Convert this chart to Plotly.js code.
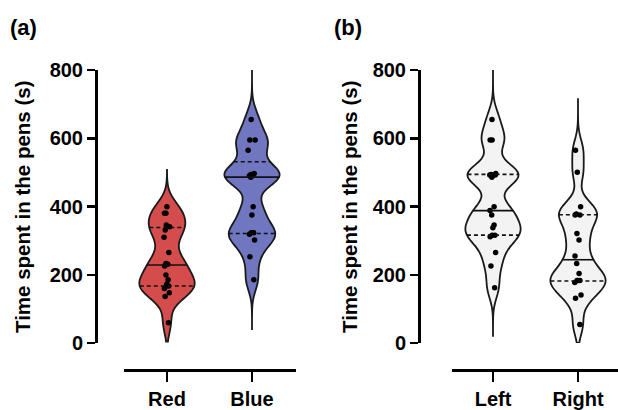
<!DOCTYPE html>
<html><head><meta charset="utf-8">
<script src="https://cdn.plot.ly/plotly-3.0.1.min.js"></script>
<style>html,body{margin:0;padding:0;background:#fff}#chart{width:618px;height:410px}</style>
</head><body><div id="chart"></div>
<script>
// ---- data ----
const colorCategories = ['Red', 'Blue'];
const sideCategories = ['Left', 'Right'];
const yTickVals = [0, 200, 400, 600, 800];
const redValues = [59,136,147,160,167,167,173,185,199,226,231,233,265,310,331,341,346,380,380,399];
const blueValues = [185,253,302,319,323,323,375,399,486,490,492,494,497,565,595,595,655];
const leftValues = [162,226,265,311,316,316,338,346,375,388,399,486,492,492,494,497,595,595,655];
const rightValues = [54,131,141,177,183,183,183,204,233,255,302,321,375,375,378,399,500,565];
const redSpan = [4, 507];
const blueSpan = [38, 800];
const leftSpan = [18, 800];
const rightSpan = [0, 717];

// ---- style ----
const W = 618, H = 410;
const FONT = 'Liberation Sans, Arial, sans-serif';
const BW = 33, VW = 0.65;
const fills = ['#d44c4c', '#7076c0', '#f3f3f3', '#f3f3f3'];

function kde(vals, bw, y) {
  let s = 0;
  for (const v of vals) { const z = (y - v) / bw; s += Math.exp(-0.5 * z * z); }
  return s / (vals.length * bw * Math.sqrt(2 * Math.PI));
}
function halfWidth(vals, span, y) {
  let mx = 0;
  for (let i = 0; i <= 600; i++) {
    const t = span[0] + (span[1] - span[0]) * i / 600;
    mx = Math.max(mx, kde(vals, BW, t));
  }
  return VW / 2 * kde(vals, BW, y) / mx;
}
function quant(vals, p) {
  const s = vals.slice().sort((a, b) => a - b);
  const pos = p * (s.length + 1) - 1;
  const lo = Math.max(0, Math.floor(pos)), hi = Math.min(s.length - 1, lo + 1);
  return s[lo] + (s[hi] - s[lo]) * (pos - lo);
}

const groups = [
  {vals: redValues, span: redSpan, pos: 0, name: colorCategories[0], xa: 'x', ya: 'y', fill: fills[0]},
  {vals: blueValues, span: blueSpan, pos: 1, name: colorCategories[1], xa: 'x', ya: 'y', fill: fills[1]},
  {vals: leftValues, span: leftSpan, pos: 0, name: sideCategories[0], xa: 'x2', ya: 'y2', fill: fills[2]},
  {vals: rightValues, span: rightSpan, pos: 1, name: sideCategories[1], xa: 'x2', ya: 'y2', fill: fills[3]}
];

const traces = groups.map(g => ({
  type: 'violin', y: g.vals, x0: g.pos, name: g.name, xaxis: g.xa, yaxis: g.ya,
  bandwidth: BW, spanmode: 'manual', span: g.span, width: VW, scalemode: 'width',
  fillcolor: g.fill, line: {color: '#1a1a1a', width: 1.8},
  points: 'all', pointpos: 0, jitter: 0.15,
  marker: {color: '#000', size: 5.5, line: {width: 0}},
  box: {visible: false}, meanline: {visible: false}, showlegend: false, hoverinfo: 'y'
}));

const shapes = [];
groups.forEach(g => {
  [[0.25, 'dash'], [0.5, 'solid'], [0.75, 'dash']].forEach(([p, d]) => {
    const q = quant(g.vals, p);
    const hw = halfWidth(g.vals, g.span, q);
    shapes.push({type: 'line', xref: g.xa, yref: g.ya, x0: g.pos - hw, x1: g.pos + hw, y0: q, y1: q,
      line: {color: '#111', width: 1.6, dash: d === 'dash' ? '4px,3px' : 'solid'}});
  });
});

const yTop = 70, yBot = 343, xLineY = 370;
function yaxisDef(px) {
  return {domain: [(H - yBot) / H, (H - yTop) / H], anchor: 'free', position: px / W,
    range: [0, 800], tickvals: yTickVals, ticktext: yTickVals.map(String),
    showline: true, linecolor: '#000', linewidth: 2.5, ticks: 'outside', ticklen: 8, tickwidth: 2.5,
    tickcolor: '#000', showgrid: false, zeroline: false, automargin: false,
    tickfont: {family: FONT, size: 20, color: '#000', weight: 'bold'}};
}
function xaxisDef(x0px, x1px, c0, c1, labels) {
  const k = c1 - c0;
  return {domain: [x0px / W, x1px / W], anchor: 'free', position: (H - xLineY) / H,
    range: [-(c0 - x0px) / k, 1 + (x1px - c1) / k], tickvals: [0, 1], ticktext: labels,
    showline: true, linecolor: '#000', linewidth: 2.5, ticks: 'outside', ticklen: 10, tickwidth: 2.5,
    tickcolor: '#000', showgrid: false, zeroline: false, automargin: false,
    tickfont: {family: FONT, size: 20, color: '#000', weight: 'bold'}};
}

const layout = {
  width: W, height: H, margin: {l: 0, r: 0, t: 0, b: 0},
  paper_bgcolor: '#fff', plot_bgcolor: 'rgba(0,0,0,0)', showlegend: false,
  violinmode: 'overlay',
  xaxis: xaxisDef(124, 296, 167, 252, colorCategories),
  yaxis: yaxisDef(96),
  xaxis2: xaxisDef(452, 618, 493, 578, sideCategories),
  yaxis2: yaxisDef(419),
  shapes: shapes,
  annotations: [
    {text: 'Time spent in the pens (s)', xref: 'paper', yref: 'paper', x: 22 / W, y: 1 - 207 / H,
      textangle: -90, showarrow: false, xanchor: 'center', yanchor: 'middle',
      font: {family: FONT, size: 20.5, color: '#000', weight: 'bold'}},
    {text: 'Time spent in the pens (s)', xref: 'paper', yref: 'paper', x: 349 / W, y: 1 - 207 / H,
      textangle: -90, showarrow: false, xanchor: 'center', yanchor: 'middle',
      font: {family: FONT, size: 20.5, color: '#000', weight: 'bold'}},
    {text: '(a)', xref: 'paper', yref: 'paper', x: 8 / W, y: 1 - 27 / H, showarrow: false,
      xanchor: 'left', yanchor: 'middle', font: {family: FONT, size: 22, color: '#000', weight: 'bold'}},
    {text: '(b)', xref: 'paper', yref: 'paper', x: 332 / W, y: 1 - 27 / H, showarrow: false,
      xanchor: 'left', yanchor: 'middle', font: {family: FONT, size: 22, color: '#000', weight: 'bold'}}
  ]
};

Plotly.newPlot('chart', traces, layout, {displayModeBar: false, staticPlot: true});
</script>
</body></html>
